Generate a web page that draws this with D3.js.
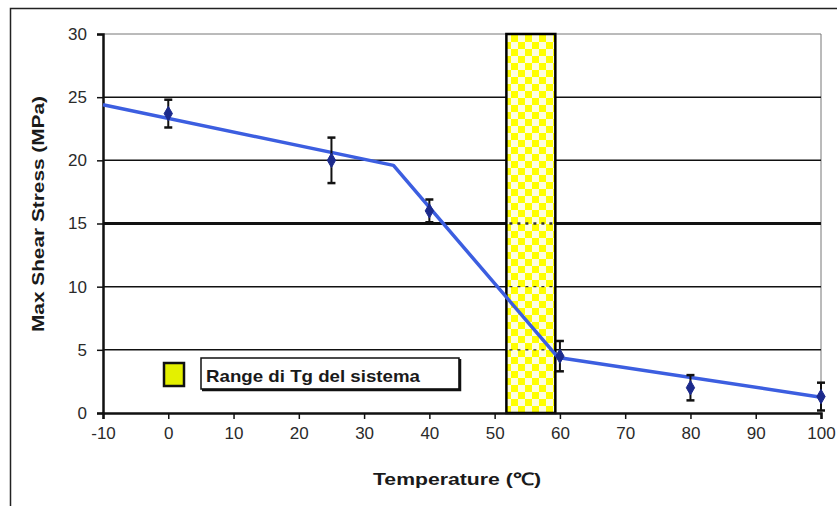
<!DOCTYPE html>
<html>
<head>
<meta charset="utf-8">
<script src="https://cdn.jsdelivr.net/npm/d3@7"></script>
<style>
	body { margin: 0; background: #fff; }
	text { font-family: 'Liberation Sans', Arial, sans-serif; }
</style>
</head>
<body>
<div id="chart"></div>
<script>
// measured points with error bars
var temps = [0, 25, 40, 60, 80, 100];
var stress = [23.7, 20.0, 16.0, 4.5, 2.0, 1.3];
var errors = [1.1, 1.8, 0.9, 1.2, 1.0, 1.1];

// fitted trend (piecewise)
var fitTemps = [-10, 34.5, 59.7, 100];
var fitStress = [24.4, 19.6, 4.4, 1.25];

// Tg range band
var tgRange = [51.8, 59.3];

var xTicks = [-10, 0, 10, 20, 30, 40, 50, 60, 70, 80, 90, 100];
var yTicks = [0, 5, 10, 15, 20, 25, 30];

var width = 837;
var height = 506;
var margin = { left: 103, top: 34, right: 16, bottom: 93 };

var x = d3.scaleLinear().domain([-10, 100]).range([margin.left, width - margin.right]);
var y = d3.scaleLinear().domain([0, 30]).range([height - margin.bottom, margin.top]);

var svg = d3.select('#chart')
	.append('svg')
	.attr('width', width)
	.attr('height', height);

// checker pattern for the band
var defs = svg.append('defs');
var pat = defs.append('pattern')
	.attr('id', 'checks')
	.attr('patternUnits', 'userSpaceOnUse')
	.attr('width', 14)
	.attr('height', 14);
pat.append('rect').attr('width', 14).attr('height', 14).attr('fill', '#ffff00');
pat.append('rect').attr('x', 7).attr('y', 0).attr('width', 7).attr('height', 7).attr('fill', '#fdfde0');
pat.append('rect').attr('x', 0).attr('y', 7).attr('width', 7).attr('height', 7).attr('fill', '#fdfde0');

// outer frame
svg.append('path')
	.attr('d', 'M10.5,' + height + 'V8.5H' + width)
	.attr('fill', 'none')
	.attr('stroke', '#222')
	.attr('stroke-width', 1.5);

// plot area border (right / top)
svg.append('path')
	.attr('d', 'M' + x(-10) + ',' + y(30) + 'H' + x(100) + 'V' + y(0))
	.attr('fill', 'none')
	.attr('stroke', '#777')
	.attr('stroke-width', 1);

// gridlines
svg.append('g').selectAll('line')
	.data(yTicks.filter(function(d) { return d > 0 && d < 30; }))
	.join('line')
	.attr('x1', x(-10))
	.attr('x2', x(100))
	.attr('y1', function(d) { return y(d); })
	.attr('y2', function(d) { return y(d); })
	.attr('stroke', '#111')
	.attr('stroke-width', function(d) { return d === 15 ? 3 : 1.5; });

// Tg band
svg.append('rect')
	.attr('x', x(tgRange[0]))
	.attr('y', y(30))
	.attr('width', x(tgRange[1]) - x(tgRange[0]))
	.attr('height', y(0) - y(30))
	.attr('fill', 'url(#checks)')
	.attr('stroke', '#000')
	.attr('stroke-width', 2.5);

// dashed gridline traces through the band
svg.append('g').selectAll('line')
	.data([5, 10, 15])
	.join('line')
	.attr('x1', x(tgRange[0]) + 3)
	.attr('x2', x(tgRange[1]) - 3)
	.attr('y1', function(d) { return y(d); })
	.attr('y2', function(d) { return y(d); })
	.attr('stroke', '#333')
	.attr('stroke-width', function(d) { return d === 15 ? 2.5 : 1.2; })
	.attr('stroke-dasharray', '3,5');

// axes
var fmt = function(d) { return String(d); };
var yAxis = svg.append('g')
	.attr('transform', 'translate(' + x(-10) + ',0)')
	.call(d3.axisLeft(y).tickValues(yTicks).tickFormat(fmt).tickSize(6).tickPadding(10));
var xAxis = svg.append('g')
	.attr('transform', 'translate(0,' + y(0) + ')')
	.call(d3.axisBottom(x).tickValues(xTicks).tickFormat(fmt).tickSize(6).tickPadding(8));

[yAxis, xAxis].forEach(function(a) {
	a.select('.domain').attr('stroke', '#111').attr('stroke-width', 2.5);
	a.selectAll('.tick line').attr('stroke', '#111').attr('stroke-width', 1.5);
	a.selectAll('.tick text')
		.style('font-size', '17px')
		.style('font-family', "'Liberation Sans', Arial, sans-serif")
		.attr('fill', '#2a2a2a');
});

// fit line
var line = d3.line()
	.x(function(d) { return x(d[0]); })
	.y(function(d) { return y(d[1]); });

svg.append('path')
	.datum(fitTemps.map(function(t, i) { return [t, fitStress[i]]; }))
	.attr('d', line)
	.attr('fill', 'none')
	.attr('stroke', '#3c5ee0')
	.attr('stroke-width', 3.5)
	.attr('stroke-linejoin', 'round');

// error bars and points
var pts = svg.append('g').selectAll('g')
	.data(temps.map(function(t, i) { return { t: t, v: stress[i], e: errors[i] }; }))
	.join('g');

pts.append('line')
	.attr('x1', function(d) { return x(d.t); })
	.attr('x2', function(d) { return x(d.t); })
	.attr('y1', function(d) { return y(d.v + d.e); })
	.attr('y2', function(d) { return y(d.v - d.e); })
	.attr('stroke', '#111')
	.attr('stroke-width', 2);

[1, -1].forEach(function(s) {
	pts.append('line')
		.attr('x1', function(d) { return x(d.t) - 4; })
		.attr('x2', function(d) { return x(d.t) + 4; })
		.attr('y1', function(d) { return y(d.v + s * d.e); })
		.attr('y2', function(d) { return y(d.v + s * d.e); })
		.attr('stroke', '#111')
		.attr('stroke-width', 2.5);
});

pts.append('path')
	.attr('transform', function(d) { return 'translate(' + x(d.t) + ',' + y(d.v) + ')'; })
	.attr('d', d3.symbol().type(d3.symbolDiamond).size(60))
	.attr('fill', '#1c2a8c')
	.attr('stroke', '#1c2a8c');

// legend
var legend = svg.append('g');
legend.append('rect')
	.attr('x', 164)
	.attr('y', 363)
	.attr('width', 20)
	.attr('height', 23)
	.attr('fill', '#e4f000')
	.attr('stroke', '#111')
	.attr('stroke-width', 2.5);
legend.append('rect')
	.attr('x', 201)
	.attr('y', 358)
	.attr('width', 258)
	.attr('height', 31)
	.attr('fill', '#fff')
	.attr('stroke', '#111')
	.attr('stroke-width', 1.5);
legend.append('path')
	.attr('d', 'M202,390H460V359')
	.attr('fill', 'none')
	.attr('stroke', '#111')
	.attr('stroke-width', 2.5);
legend.append('text')
	.attr('x', 206)
	.attr('y', 382)
	.attr('textLength', 214)
	.attr('lengthAdjust', 'spacingAndGlyphs')
	.style('font-size', '17px')
	.style('font-weight', 'bold')
	.attr('fill', '#1a1a1a')
	.text('Range di Tg del sistema');

// axis titles
svg.append('text')
	.attr('transform', 'translate(44,' + 214 + ') rotate(-90)')
	.attr('text-anchor', 'middle')
	.attr('textLength', 236)
	.attr('lengthAdjust', 'spacingAndGlyphs')
	.style('font-size', '17px')
	.style('font-weight', 'bold')
	.attr('fill', '#1a1a1a')
	.text('Max Shear Stress (MPa)');

svg.append('text')
	.attr('x', 457)
	.attr('y', 485)
	.attr('text-anchor', 'middle')
	.attr('textLength', 168)
	.attr('lengthAdjust', 'spacingAndGlyphs')
	.style('font-size', '17px')
	.style('font-weight', 'bold')
	.attr('fill', '#1a1a1a')
	.text('Temperature (\u2103)');
</script>
</body>
</html>
